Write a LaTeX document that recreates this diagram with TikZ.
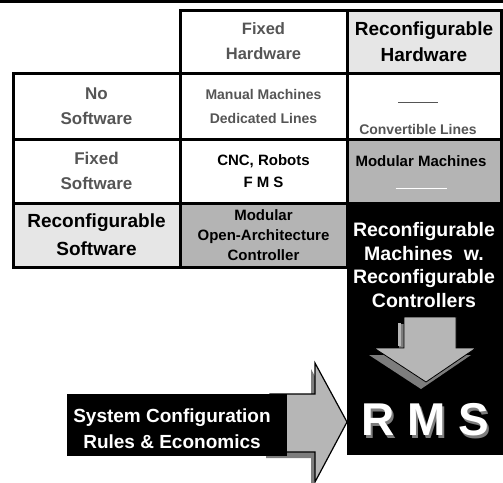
\documentclass[tikz,border=0pt]{standalone}
\usepackage{fontspec}
\setmainfont{Liberation Sans}
\usetikzlibrary{calc,positioning}
\definecolor{rmsLightGray}{RGB}{230,230,230}
\definecolor{rmsMidGray}{RGB}{180,180,180}
\definecolor{rmsTextGray}{RGB}{85,85,85}
\definecolor{rmsArrowGray}{RGB}{182,182,182}
\definecolor{rmsShadowGray}{RGB}{125,125,125}
\newcommand{\cellfont}[2]{\fontsize{#1}{#2}\selectfont\bfseries}
\newcommand{\shadowtext}[1]{\makebox[0pt][l]{\hspace{2.5pt}\raisebox{-2.5pt}{\textcolor{rmsShadowGray}{#1}}}#1}
\tikzset{
	cell/.style={draw,line width=3pt,align=center,inner sep=0pt,minimum width=167pt,minimum height=64pt},
	widecell/.style={cell,minimum width=154pt},
	plaintxt/.style={align=center,inner sep=0pt},
	blockarrow/.style={fill=rmsArrowGray,draw=black,line width=1.2pt},
}
\begin{document}
\begin{tikzpicture}[x=1pt,y=-1pt]
\useasboundingbox (0,0) rectangle (503,482);
\fill (0,0) rectangle (503,2.7);
\node [cell,minimum height=63pt,text=rmsTextGray,font=\cellfont{16.5}{25}] (fixhw) at (263.5,41.5){Fixed\\Hardware};
\node [widecell,minimum height=63pt,fill=rmsLightGray,font=\cellfont{19}{26}] (rechw) at (424,41.5){Reconfigurable\\Hardware};
\node [cell,minimum height=66pt,text=rmsTextGray,font=\cellfont{17}{25}] (nosw) at (96.5,106){No\\Software};
\node [cell,minimum height=66pt,text=rmsTextGray,font=\cellfont{14}{24}] (manual) at (263.5,106){Manual Machines\\Dedicated Lines};
\node [widecell,minimum height=66pt] (convcell) at (424,106){};
\node [plaintxt,text=rmsTextGray,font=\cellfont{14}{28}] (conv) at ($(convcell)+(-6,12)$){\rule[3pt]{40pt}{1.2pt}\\Convertible Lines};
\node [cell,text=rmsTextGray,font=\cellfont{17}{25}] (fixsw) at (96.5,171){Fixed\\Software};
\node [cell,font=\cellfont{15}{22}] (cnc) at (263.5,171){CNC, Robots\\F M S};
\node [widecell,fill=rmsMidGray] (modmcell) at (424,171){};
\node [plaintxt,font=\cellfont{15}{26}] (modm) at ($(modmcell)+(-3,3)$){Modular Machines\\\textcolor{white}{\rule[3pt]{51pt}{1.5pt}}};
\node [cell,fill=rmsLightGray,font=\cellfont{19}{28}] (recsw) at (96.5,235){Reconfigurable\\Software};
\node [cell,fill=rmsMidGray,font=\cellfont{15}{20}] (oac) at (263.5,235){Modular\\Open-Architecture\\Controller};
\node [fill=black,inner sep=0pt,minimum width=156pt,minimum height=252pt] (rmsbox) at (425,329){};
\node [plaintxt,text=white,font=\cellfont{19.5}{23.5}] (rmc) at (424,265){Reconfigurable\\Machines\ \ w.\\Reconfigurable\\Controllers};
\fill [rmsShadowGray,shift={(-5,7)}] (404,317) -- (456,317) -- (456,348) -- (476,348) -- (426,382) -- (374,348) -- (404,348) -- cycle;
\filldraw [blockarrow,line width=0.8pt] (404,317) -- (456,317) -- (456,348) -- (476,348) -- (426,382) -- (374,348) -- (404,348) -- cycle;
\fill [rmsArrowGray] (398,323) rectangle (401,346);
\node [plaintxt,text=white,font=\cellfont{46}{46}] (rms) at (425,421){\shadowtext{R M S}};
\fill [rmsShadowGray,shift={(-4,6)}] (270,394) -- (315,394) -- (315,363) -- (347,422) -- (315,482) -- (315,452) -- (270,452) -- cycle;
\filldraw [blockarrow] (270,394) -- (315,394) -- (315,363) -- (347,422) -- (315,482) -- (315,452) -- (270,452) -- cycle;
\node [fill=black,inner sep=0pt,minimum width=220pt,minimum height=62pt] (rulesbox) at (177,425){};
\node [plaintxt,text=white,font=\cellfont{19}{26}] (rules) at (172,429){System Configuration\\Rules \& Economics};
\end{tikzpicture}
\end{document}
